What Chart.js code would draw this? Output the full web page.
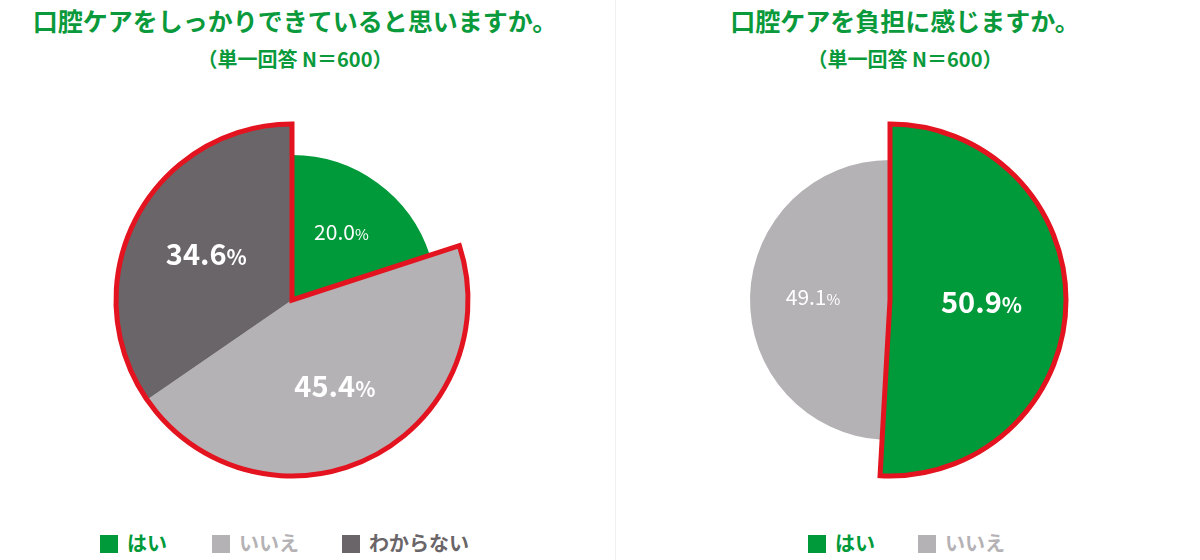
<!DOCTYPE html>
<html><head><meta charset="utf-8">
<script src="https://cdn.jsdelivr.net/npm/chart.js@4"></script>
<style>
body{margin:0;width:1200px;height:560px;background:#fff;position:relative;overflow:hidden;font-family:"Noto Sans CJK JP","Noto Sans",sans-serif;}
.t{position:absolute;color:#0a9a3c;font-weight:700;text-align:center;white-space:nowrap;}
.t1{font-size:25px;top:2px;}
.t2{font-size:20px;top:44px;}
.cv{position:absolute;width:420px;height:420px;top:90px;}
.lg{position:absolute;top:528px;font-size:20px;font-weight:700;white-space:nowrap;}
.lg span{position:absolute;}
.lg i{display:inline-block;width:18px;height:18px;vertical-align:-2px;margin-right:9px;}
.div{position:absolute;left:615px;top:0;width:1px;height:560px;background:#f0f0f0;}
</style></head><body>
<div class="div"></div>
<div class="t t1" style="left:0;width:590px">口腔ケアをしっかりできていると思いますか。</div>
<div class="t t2" style="left:0;width:590px">（単一回答 N＝600）</div>
<div class="t t1" style="left:610px;width:590px">口腔ケアを負担に感じますか。</div>
<div class="t t2" style="left:610px;width:590px">（単一回答 N＝600）</div>
<div class="cv" style="left:82px"><canvas id="c1" width="420" height="420"></canvas></div>
<div class="cv" style="left:680px"><canvas id="c2" width="420" height="420"></canvas></div>
<div class="lg" id="lg1"></div>
<div class="lg" id="lg2"></div>
<script>
const labels1 = ['はい','いいえ','わからない'];
const values1 = [20.0, 45.4, 34.6];
const labels2 = ['はい','いいえ'];
const values2 = [50.9, 49.1];
const highlight1 = [false, true, true];
const highlight2 = [true, false];
const colors = ['#009a3a','#b5b2b5','#6a6568'];
const RED = '#e3141f';

function legend(id, labels, xs){
  const el = document.getElementById(id);
  labels.forEach((l,i)=>{
    const s=document.createElement('span');
    s.style.left=xs[i]+'px'; s.style.color=colors[i];
    s.innerHTML='<i style="background:'+colors[i]+'"></i>'+l;
    el.appendChild(s);
  });
}
legend('lg1', labels1, [100,212,342]);
legend('lg2', labels2, [808,918]);

function makePie(id, labels, values, hl, big, small, labelStyle){
  const plugin = {
    id:'custom'+id,
    afterDatasetsUpdate(chart){
      const meta = chart.getDatasetMeta(0);
      meta.data.forEach((a,i)=>{ a.outerRadius = hl[i]?big:small; });
    },
    afterDatasetsDraw(chart){
      const ctx = chart.ctx;
      const meta = chart.getDatasetMeta(0);
      const arcs = meta.data.filter((a,i)=>hl[i]);
      const cx = arcs[0].x, cy = arcs[0].y;
      const s = arcs[0].startAngle, e = arcs[arcs.length-1].endAngle;
      ctx.save();
      ctx.beginPath();
      ctx.moveTo(cx,cy);
      ctx.arc(cx,cy,big,s,e);
      ctx.closePath();
      ctx.lineWidth=5; ctx.strokeStyle=RED; ctx.lineJoin='miter';
      ctx.stroke();
      // labels
      meta.data.forEach((a,i)=>{
        const st = labelStyle[i];
        const mid=(a.startAngle+a.endAngle)/2;
        const r = a.outerRadius*st.r;
        const x=cx+Math.cos(mid)*r, y=cy+Math.sin(mid)*r;
        const num = values[i].toFixed(1);
        const f1 = (st.bold?'700 ':'400 ')+st.size+'px "Noto Sans CJK JP", "Noto Sans", sans-serif';
        const f2 = (st.bold?'700 ':'400 ')+Math.round(st.size*0.72)+'px "Noto Sans CJK JP", "Noto Sans", sans-serif';
        ctx.font=f1; const w1=ctx.measureText(num).width;
        ctx.font=f2; const w2=ctx.measureText('%').width;
        const x0 = x-(w1+w2)/2;
        ctx.fillStyle='#fff'; ctx.textBaseline='alphabetic'; ctx.textAlign='left';
        ctx.font=f1; ctx.fillText(num,x0,y+st.size*0.36);
        ctx.font=f2; ctx.fillText('%',x0+w1,y+st.size*0.36);
      });
      ctx.restore();
    }
  };
  return new Chart(document.getElementById(id),{
    type:'pie',
    data:{labels, datasets:[{data:values, backgroundColor:colors.slice(0,values.length), borderWidth:0}]},
    options:{responsive:false, animation:false, events:[],
      layout:{padding:0},
      plugins:{legend:{display:false}, tooltip:{enabled:false}}},
    plugins:[plugin]
  });
}
makePie('c1', labels1, values1, highlight1, 176, 145,
  [{r:0.58,size:21,bold:false},{r:0.55,size:29,bold:true},{r:0.55,size:29,bold:true}]);
makePie('c2', labels2, values2, highlight2, 176, 140,
  [{r:0.52,size:29,bold:true},{r:0.55,size:21,bold:false}]);
</script>
</body></html>
